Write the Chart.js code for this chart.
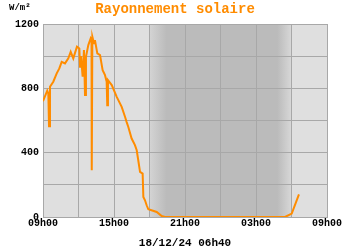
<!DOCTYPE html>
<html>
<head>
<meta charset="utf-8">
<script src="https://cdn.jsdelivr.net/npm/chart.js@4"></script>
<style>
    html, body { margin: 0; padding: 0; background: #fff; }
    #wrap { width: 350px; height: 250px; }
</style>
</head>
<body>
<div id="wrap"><canvas id="solarChart"></canvas></div>
<script>
// Hours since 09h00 on 18/12 and the measured radiation (W/m²)
const hours = [0, 0.36, 0.45, 0.51, 0.59, 0.87, 1.16, 1.38, 1.58, 1.86, 2.14, 2.34, 2.56, 2.87, 3.07, 3.13, 3.21, 3.35, 3.46, 3.55, 3.63, 3.83, 4.03, 4.10, 4.12, 4.17, 4.31, 4.39, 4.59, 4.82, 5.04, 5.24, 5.38, 5.43, 5.49, 5.81, 6.23, 6.65, 6.93, 7.07, 7.21, 7.49, 7.77, 7.92, 8.05, 8.20, 8.42, 8.48, 8.62, 8.76, 8.90, 9.61, 10.03, 10.31, 20.45, 21.02, 21.63];
const radiation = [720, 785, 768, 565, 810, 841, 893, 924, 965, 955, 986, 1027, 986, 1059, 1048, 934, 1000, 872, 1038, 758, 996, 1069, 1111, 1100, 291, 1121, 1080, 1100, 1017, 1007, 913, 882, 841, 695, 851, 820, 747, 685, 623, 590, 560, 488, 447, 415, 353, 280, 270, 125, 104, 73, 48, 31, 6, 0, 0, 21, 141];

const xTickLabels = ['09h00', '15h00', '21h00', '03h00', '09h00'];
const yTickLabels = ['0', '400', '800', '1200'];
const nightStart = 9;   // 18h00
const nightEnd = 21;    // 06h00

const FONT = "'Liberation Mono', 'DejaVu Sans Mono', monospace";

// Plot background with the grey night band, plus title and unit text
const backgroundPlugin = {
    id: 'plotBackground',
    beforeDraw(chart) {
        const { ctx, chartArea: a, scales: { x } } = chart;
        ctx.save();
        ctx.fillStyle = '#dfdfdf';
        ctx.fillRect(a.left, a.top, a.right - a.left, a.bottom - a.top);

        const x0 = x.getPixelForValue(nightStart);
        const x1 = x.getPixelForValue(nightEnd);
        const grad = ctx.createLinearGradient(x0, 0, x1, 0);
        grad.addColorStop(0, '#d4d4d4');
        grad.addColorStop(0.12, '#bbbbbb');
        grad.addColorStop(0.9, '#bbbbbb');
        grad.addColorStop(1, '#d8d8d8');
        ctx.fillStyle = grad;
        ctx.fillRect(x0, a.top, x1 - x0, a.bottom - a.top);
        ctx.restore();
    },
    afterDraw(chart) {
        const { ctx } = chart;
        ctx.save();
        ctx.textBaseline = 'middle';
        ctx.fillStyle = '#ff8c00';
        ctx.font = 'bold 14px ' + FONT;
        ctx.textAlign = 'center';
        ctx.fillText('Rayonnement solaire', 175, 9);
        ctx.fillStyle = '#000';
        ctx.font = 'bold 9px ' + FONT;
        ctx.textAlign = 'left';
        ctx.fillText('W/m²', 9, 8);
        ctx.restore();
    }
};

const ctx = document.getElementById('solarChart').getContext('2d');
const solarChart = new Chart(ctx, {
    type: 'line',
    data: {
        datasets: [{
            data: hours.map((h, i) => ({ x: h, y: radiation[i] })),
            borderColor: '#ff8c00',
            borderWidth: 2,
            pointRadius: 0,
            tension: 0,
            fill: false
        }]
    },
    options: {
        responsive: true,
        maintainAspectRatio: false,
        animation: false,
        events: [],
        layout: {
            padding: { left: 0, right: 23, top: 24, bottom: 0 }
        },
        plugins: {
            legend: { display: false },
            tooltip: { enabled: false },
            title: { display: false }
        },
        scales: {
            x: {
                type: 'linear',
                min: 0,
                max: 24,
                afterFit(scale) { scale.height = 33; },
                ticks: {
                    stepSize: 3,
                    autoSkip: false,
                    maxRotation: 0,
                    padding: 0,
                    color: '#000',
                    font: { family: FONT, size: 10, weight: 'bold' },
                    callback: (v) => (v % 6 === 0 ? xTickLabels[v / 6] : '')
                },
                grid: { color: '#a8a8a8', lineWidth: 1, drawTicks: false },
                border: { color: '#a8a8a8' },
                title: {
                    display: true,
                    text: '18/12/24 06h40',
                    color: '#000',
                    font: { family: FONT, size: 11, weight: 'bold' },
                    padding: { top: 6, bottom: 0 }
                }
            },
            y: {
                min: 0,
                max: 1200,
                afterFit(scale) { scale.width = 43; },
                ticks: {
                    stepSize: 200,
                    autoSkip: false,
                    padding: 4,
                    color: '#000',
                    font: { family: FONT, size: 10, weight: 'bold' },
                    callback: (v) => (v % 400 === 0 ? yTickLabels[v / 400] : '')
                },
                grid: { color: '#a8a8a8', lineWidth: 1, drawTicks: false },
                border: { color: '#a8a8a8' }
            }
        }
    },
    plugins: [backgroundPlugin]
});
</script>
</body>
</html>
